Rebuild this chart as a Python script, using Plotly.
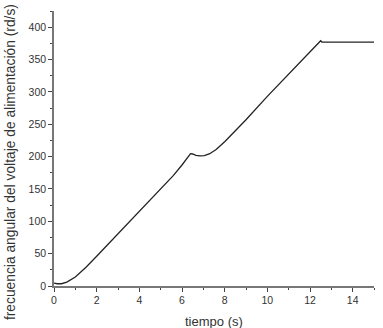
import plotly.graph_objects as go

tiempo = [0.0, 0.15, 0.35, 0.6, 1.0, 1.5, 2.0, 3.0, 4.0, 5.0, 5.6, 6.0, 6.25, 6.4, 6.5, 6.65, 6.85, 7.05, 7.3, 7.6, 8.0, 9.0, 10.0, 11.0, 12.0, 12.5, 12.56, 13.0, 14.0, 15.0]
frecuencia = [4.5, 3.5, 3.5, 6.0, 14.0, 29.0, 46.0, 81.0, 115.0, 150.0, 171.0, 187.0, 198.0, 204.5, 204.0, 202.0, 201.0, 201.5, 204.5, 211.0, 223.0, 257.0, 293.0, 328.0, 362.0, 379.0, 377.0, 377.0, 377.0, 377.0]

fig = go.Figure()
fig.add_trace(go.Scatter(x=tiempo, y=frecuencia, mode="lines",
                         line=dict(color="#222222", width=1.3),
                         showlegend=False))

axis_common = dict(showgrid=False, zeroline=False, showline=True, linecolor="#777777",
                   linewidth=1.5, ticks="outside", ticklen=4, tickwidth=1, tickcolor="#444444",
                   automargin=False,
                   tickfont=dict(family="Liberation Sans, Arial", size=10.5, color="#333333"))

fig.update_xaxes(range=[0, 15], tickvals=[0, 2, 4, 6, 8, 10, 12, 14],
                 minor=dict(ticks="outside", ticklen=2, tickcolor="#444444", dtick=1, tick0=0),
                 **axis_common)
fig.update_yaxes(range=[0, 425], tickvals=[0, 50, 100, 150, 200, 250, 300, 350, 400],
                 minor=dict(ticks="outside", ticklen=2, tickcolor="#444444", dtick=25, tick0=0),
                 **axis_common)

fig.add_annotation(text="frecuencia angular del voltaje de alimentación (rd/s)",
                   xref="paper", yref="paper", x=-0.138, y=0.45, textangle=-90,
                   showarrow=False, xanchor="center", yanchor="middle",
                   font=dict(family="Liberation Sans, Arial", size=13.8, color="#333333"))
fig.add_annotation(text="tiempo (s)",
                   xref="paper", yref="paper", x=0.5, y=-0.13,
                   showarrow=False, xanchor="center", yanchor="middle",
                   font=dict(family="Liberation Sans, Arial", size=13, color="#333333"))

fig.update_layout(width=383, height=328, margin=dict(l=54, r=9, t=11, b=42),
                  paper_bgcolor="white", plot_bgcolor="white")

fig.write_html("out.html")
